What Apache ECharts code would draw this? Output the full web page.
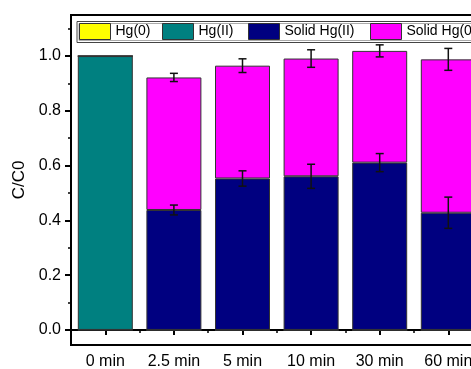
<!DOCTYPE html>
<html><head><meta charset="utf-8">
<script src="https://cdn.jsdelivr.net/npm/echarts@6/dist/echarts.min.js"></script>
<style>html,body{margin:0;padding:0;background:#fff}#c{width:471px;height:369px}</style>
</head><body><div id="c"></div>
<script>
const categories = ['0 min', '2.5 min', '5 min', '10 min', '30 min', '60 min'];
const hg0 = [0, 0, 0, 0, 0, 0];
const hgII = [1.0, 0, 0, 0, 0, 0];
const solidHgII = [0, 0.438, 0.553, 0.561, 0.611, 0.428];
const solidHg0 = [0, 0.484, 0.412, 0.430, 0.408, 0.560];
const solidHgIIErr = [0, 0.018, 0.028, 0.044, 0.033, 0.057];
const totalErr = [0, 0.015, 0.025, 0.032, 0.022, 0.040];
const yTickValues = [0, 0.2, 0.4, 0.6, 0.8, 1.0];
const yMinorTickValues = [0.1, 0.3, 0.5, 0.7, 0.9, 1.1];
const seriesNames = ['Hg(0)', 'Hg(II)', 'Solid Hg(II)', 'Solid Hg(0)'];

const FONT = 'Liberation Sans, Arial, sans-serif';
const colors = ['#FFFF00', '#008080', '#000080', '#FF00FF'];

const errData = [];
categories.forEach((c, i) => {
  if (solidHgIIErr[i] > 0) errData.push([i, solidHgII[i], solidHgIIErr[i]]);
  if (totalErr[i] > 0) errData.push([i, solidHgII[i] + solidHg0[i], totalErr[i]]);
});

const chart = echarts.init(document.getElementById('c'), null, {renderer: 'canvas'});
const yMin = -0.055, yMax = 1.15;
const barStyle = (col) => ({color: col, borderColor: '#333', borderWidth: 1});
const legendPos = [79, 162, 248, 370];

chart.setOption({
  animation: false,
  backgroundColor: '#fff',
  textStyle: {fontFamily: FONT},
  grid: {left: 71, top: 15, width: 411.6, height: 330, outerBoundsMode: 'none', containLabel: false, show: true, borderColor: '#000', borderWidth: 2, backgroundColor: 'transparent'},
  legend: seriesNames.map((n, i) => ({
    data: [n], left: legendPos[i], top: 23, padding: 0, itemWidth: 31, itemHeight: 16, icon: 'rect', z: 6,
    itemStyle: {borderColor: '#333', borderWidth: 1},
    textStyle: {fontSize: 14, color: '#000', fontFamily: FONT}
  })),
  graphic: [
    {type: 'rect', z: 5, shape: {x: 77, y: 21.5, width: 420, height: 21}, style: {fill: '#fff', stroke: '#444', lineWidth: 1}},
    {type: 'rect', z: 5, shape: {x: 79, y: 23.5, width: 420, height: 17}, style: {fill: 'none', stroke: '#aaa', lineWidth: 1}}
  ],
  xAxis: [{
    type: 'category', data: categories, position: 'bottom',
    axisLine: {show: true, lineStyle: {color: '#000', width: 2}},
    axisTick: {show: true, alignWithLabel: true, length: 5, lineStyle: {color: '#000', width: 2}},
    axisLabel: {fontSize: 16, color: '#000', margin: 9, fontFamily: FONT, interval: 0},
    splitLine: {show: false}
  }, {
    type: 'category', data: categories, position: 'bottom',
    axisLine: {show: false},
    axisTick: {show: true, length: 3, lineStyle: {color: '#000', width: 1.5}},
    axisLabel: {show: false},
    splitLine: {show: false}
  }],
  yAxis: [{
    type: 'value', min: yMin, max: yMax, position: 'left',
    name: 'C/C0', nameLocation: 'middle', nameGap: 40, nameRotate: 90,
    nameTextStyle: {fontSize: 17, color: '#000', fontFamily: FONT},
    axisLine: {show: true, lineStyle: {color: '#000', width: 2}},
    axisTick: {show: true, customValues: yTickValues, length: 6, lineStyle: {color: '#000', width: 2}},
    axisLabel: {customValues: yTickValues, fontSize: 16, color: '#000', margin: 10, fontFamily: FONT, formatter: v => v.toFixed(1)},
    splitLine: {show: false}
  }, {
    type: 'value', min: yMin, max: yMax, position: 'left',
    axisLine: {show: false},
    axisTick: {show: true, customValues: yMinorTickValues, length: 3, lineStyle: {color: '#000', width: 1.5}},
    axisLabel: {show: false},
    splitLine: {show: false}
  }],
  series: [
    {name: seriesNames[0], type: 'bar', stack: 'tot', data: hg0, barWidth: 55, itemStyle: barStyle(colors[0])},
    {name: seriesNames[1], type: 'bar', stack: 'tot', data: hgII, barWidth: 55, itemStyle: barStyle(colors[1])},
    {name: seriesNames[2], type: 'bar', stack: 'tot', data: solidHgII, barWidth: 55, itemStyle: barStyle(colors[2])},
    {name: seriesNames[3], type: 'bar', stack: 'tot', data: solidHg0, barWidth: 55, itemStyle: barStyle(colors[3])},
    {
      type: 'custom', z: 4, data: errData, encode: {x: 0, y: 1},
      renderItem: function (params, api) {
        const x = api.value(0), y = api.value(1), e = api.value(2);
        const hi = api.coord([x, y + e]), lo = api.coord([x, y - e]);
        const cx = hi[0], hw = 4;
        const st = {stroke: '#111', lineWidth: 1.5};
        return {type: 'group', children: [
          {type: 'line', shape: {x1: cx, y1: hi[1], x2: cx, y2: lo[1]}, style: st},
          {type: 'line', shape: {x1: cx - hw, y1: hi[1], x2: cx + hw, y2: hi[1]}, style: st},
          {type: 'line', shape: {x1: cx - hw, y1: lo[1], x2: cx + hw, y2: lo[1]}, style: st}
        ]};
      }
    }
  ]
});
</script></body></html>
